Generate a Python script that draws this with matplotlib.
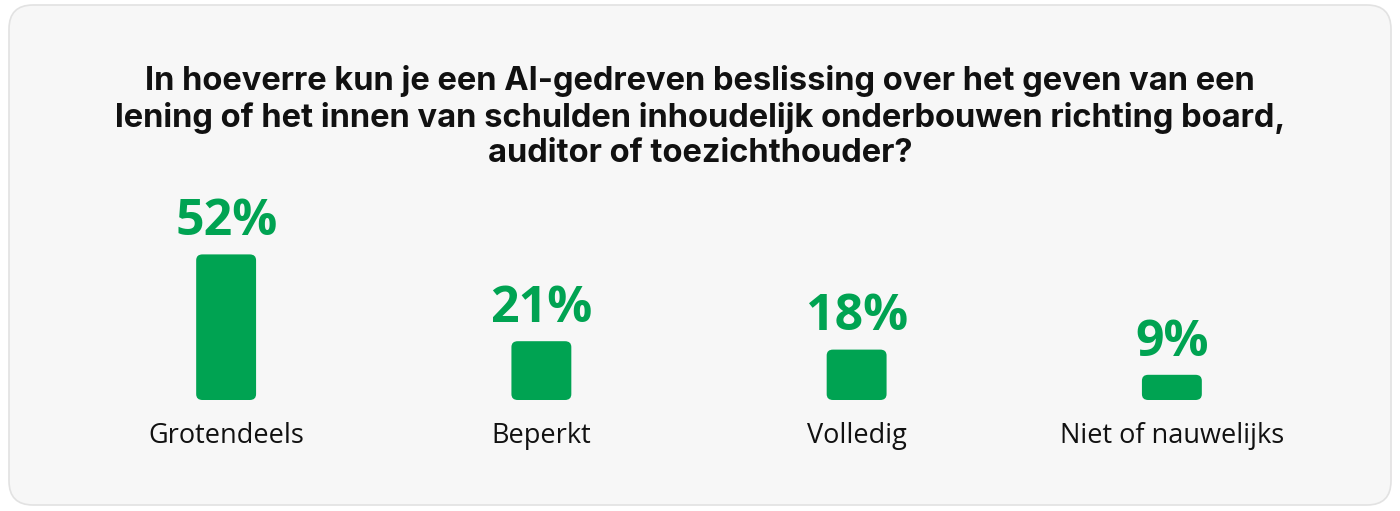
import matplotlib
matplotlib.use("Agg")
import matplotlib.pyplot as plt
from matplotlib.patches import FancyBboxPatch

categories = ["Grotendeels", "Beperkt", "Volledig", "Niet of nauwelijks"]
values = [52, 21, 18, 9]
title = ("In hoeverre kun je een AI-gedreven beslissing over het geven van een\n"
         "lening of het innen van schulden inhoudelijk onderbouwen richting board,\n"
         "auditor of toezichthouder?")
green = "#00A352"

W, H = 1400, 511
fig = plt.figure(figsize=(W/100, H/100), dpi=100)
fig.patch.set_facecolor("white")
bg = fig.add_axes([0, 0, 1, 1])
bg.set_xlim(0, W); bg.set_ylim(H, 0); bg.axis("off")
bg.add_patch(FancyBboxPatch((9, 5), W-18, H-11, boxstyle="round,pad=0,rounding_size=24",
                            fc="#f7f7f7", ec="#e2e2e2", lw=1.2))
bg.text(W/2, 117, title, ha="center", va="center", fontsize=23.5, fontweight="bold",
        family="Inter", color="#111111", linespacing=1.2)

ax = fig.add_axes([68.5/W, 111/H, 1261/W, 168/H])
ax.set_xlim(0, 4); ax.set_ylim(0, 60); ax.axis("off")
bars = ax.bar([i + 0.5 for i in range(4)], values, width=0.19, color="none")
for b, v, c in zip(bars, values, categories):
    x, y, w, h = b.get_x(), b.get_y(), b.get_width(), b.get_height()
    ax.add_patch(FancyBboxPatch((x, y), w, h, boxstyle="round,pad=0,rounding_size=0.02",
                                mutation_aspect=2.1/0.02, fc=green, ec="none"))
    ax.text(x + w/2, v + 2.6, f"{v}%", ha="center", va="bottom", fontsize=36,
            fontweight="bold", family="Open Sans", color=green)
    ax.text(x + w/2, -13, c, ha="center", va="center", fontsize=19.5,
            family="Open Sans", color="#111111")

fig.savefig("out.png", dpi=100, facecolor="white")
